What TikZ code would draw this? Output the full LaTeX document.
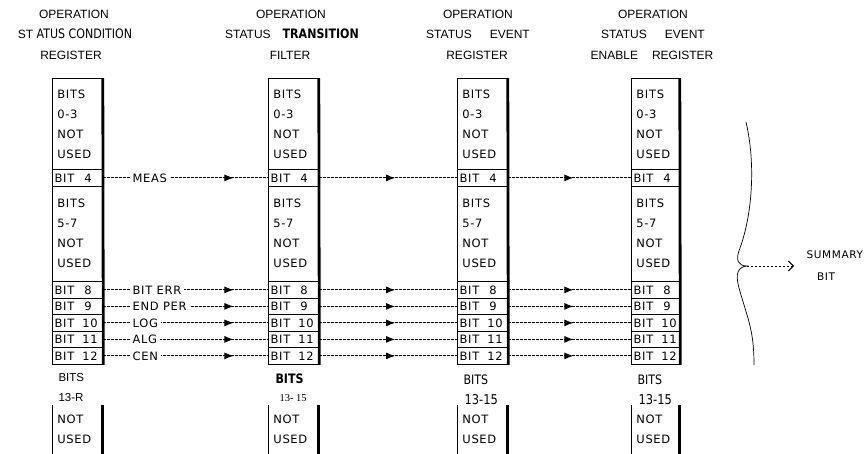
\documentclass[tikz,border=0pt]{standalone}
\usepackage{fontspec}
\setmainfont{Liberation Sans}
\newfontfamily\hand{DejaVu Sans}[LetterSpace=6]
\newfontfamily\tall{DejaVu Sans}[FakeStretch=0.85]
\newfontfamily\typed{Liberation Serif}
\usepackage{tikz}
\usetikzlibrary{arrows.meta,decorations.markings}

\newcommand{\bitname}[1]{\hbox to 43pt{BIT\hfill#1\ifnum#1<10\hspace{6pt}\fi}}

\tikzset{
	block/.style={anchor=north west, draw, line width=0.8pt, inner xsep=5pt, inner ysep=0pt, align=left, font=\hand\fontsize{11.5}{20}\selectfont},
	bitrow/.style={anchor=north west, draw, line width=1.3pt, minimum height=16.5pt, inner xsep=2pt, inner ysep=0pt, align=left, font=\hand\fontsize{11.5}{12}\selectfont},
	rightedge/.style={line width=2.8pt},
	link/.style={line width=0.9pt, dash pattern=on 2.4pt off 1.6pt},
	midarrow/.style={postaction={decorate}, decoration={markings, mark=at position #1 with {\arrow{Latex[length=9pt,width=7pt]}}}},
	sig/.style={pos=0.157, anchor=west, fill=white, inner xsep=3pt, inner ysep=1pt, font=\hand\fontsize{11.5}{12}\selectfont},
	head/.style={font=\fontsize{12}{14}\selectfont}
}

\begin{document}
\begin{tikzpicture}[x=1pt,y=-1pt]
			\useasboundingbox (0,0) rectangle (867,453);
			
			\node[head] (h1-a) at (74,14) {OPERATION};
			\node[head] (h1-b) at (75,34) {ST {\tall\fontsize{13}{14}\selectfont ATUS CONDITION}};
			\node[head] (h1-c) at (71,55) {REGISTER};
			\node[head] (h2-a) at (291,14) {OPERATION};
			\node[head] (h2-b) at (292,34) {STATUS\hspace{12pt}{\tall\bfseries\fontsize{13}{14}\selectfont TRANSITION}};
			\node[head] (h2-c) at (290,55) {FILTER};
			\node[head] (h3-a) at (478,14) {OPERATION};
			\node[head] (h3-b) at (478,34) {STATUS\hspace{18pt}EVENT};
			\node[head] (h3-c) at (477,55) {REGISTER};
			\node[head] (h4-a) at (653,14) {OPERATION};
			\node[head] (h4-b) at (653,34) {STATUS\hspace{18pt}EVENT};
			\node[head] (h4-c) at (652,55) {ENABLE\hspace{14pt}REGISTER};
			
			\foreach \c/\x/\w in {1/52/50, 2/268/50, 3/457/50, 4/631/48} {
				\pgfmathsetmacro\tw{\w-10}
				\pgfmathsetmacro\rw{\w-4}
				\node[block, text width=\tw pt, minimum height=91pt] (c\c-a) at (\x,78) {BITS\\0-3\\NOT\\USED};
				\node[bitrow, text width=\rw pt] (c\c-bit4) at (\x,169) {\bitname{4}};
				\node[block, text width=\tw pt, minimum height=95.5pt] (c\c-b) at (\x,185.5) {BITS\\5-7\\NOT\\USED};
				\foreach \r in {8,...,12}
					\node[bitrow, text width=\rw pt] (c\c-bit\r) at (\x,{281+(\r-8)*16.5}) {\bitname{\r}};
				\draw[rightedge] (c\c-a.north east) -- (c\c-bit12.south east);
				
				\node[block, draw=none, text width=\tw pt, minimum height=48pt] (c\c-c) at (\x,405) {NOT\\USED};
				\draw[line width=0.8pt] (c\c-c.north west) -- (c\c-c.south west);
				\draw[rightedge] (c\c-c.north east) -- (c\c-c.south east);
			}
			
			\node[anchor=west, font=\fontsize{11.5}{12}\selectfont] (c1-bits) at (55,378) {BITS};
			\node[anchor=west, font=\fontsize{11.5}{12}\selectfont] (c1-num) at (55,398) {13-R};
			\node[anchor=west, font=\tall\bfseries\fontsize{13}{14}\selectfont] (c2-bits) at (272,379) {BITS};
			\node[anchor=west, font=\typed\fontsize{10.5}{12}\selectfont] (c2-num) at (276,398) {13- 15};
			\node[anchor=west, font=\tall\fontsize{13}{14}\selectfont] (c3-bits) at (460,380) {BITS};
			\node[anchor=west, font=\tall\fontsize{13.5}{14}\selectfont] (c3-num) at (461,400) {13-15};
			\node[anchor=west, font=\tall\fontsize{13}{14}\selectfont] (c4-bits) at (634,380) {BITS};
			\node[anchor=west, font=\tall\fontsize{13.5}{14}\selectfont] (c4-num) at (635,400) {13-15};
			
			\foreach \r/\sname in {4/MEAS, 8/BIT ERR, 9/END PER, 10/LOG, 11/ALG, 12/CEN} {
				\draw[link, midarrow=0.79] (c1-bit\r.east) -- node[sig] (s\r) {\sname} (c2-bit\r.west);
				\draw[link, midarrow=0.55] (c2-bit\r.east) -- (c3-bit\r.west);
				\draw[link, midarrow=0.53] (c3-bit\r.east) -- (c4-bit\r.west);
			}
			
			% summary brace
			\coordinate (tip) at (747,266);
			\coordinate (sum-in) at (794,266);
			\draw[line width=0.7pt] (746,122) .. controls (756,165) and (752,215) .. (740,248) .. controls (735,260) and (738,266) .. (tip) .. controls (738,267) and (735,273) .. (739,288) .. controls (748,320) and (754,330) .. (754,365);
			\draw[link, -{Straight Barb[length=5pt,width=10pt]}] (tip) -- (sum-in);
			\node[anchor=west, font=\hand\fontsize{10.5}{12}\selectfont] (sum) at (803,255) {SUMMARY};
			\node[font=\hand\fontsize{10.5}{12}\selectfont] (sum-bit) at (826,277) {BIT};
\end{tikzpicture}
\end{document}
